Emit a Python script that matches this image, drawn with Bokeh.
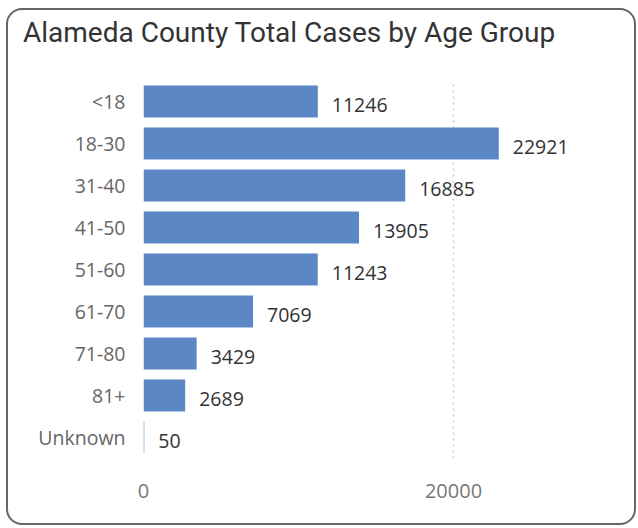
from bokeh.plotting import figure
from bokeh.models import ColumnDataSource, Range1d, FixedTicker, Div
from bokeh.layouts import column
from bokeh.core.properties import value
from bokeh.embed import file_html
from bokeh.resources import INLINE

title_text = "Alameda County Total Cases by Age Group"
categories = ["<18", "18-30", "31-40", "41-50", "51-60", "61-70", "71-80", "81+", "Unknown"]
cases = [11246, 22921, 16885, 13905, 11243, 7069, 3429, 2689, 50]
x_ticks = [0, 20000]

src = ColumnDataSource(dict(cat=categories, val=cases, lab=[str(v) for v in cases]))

p = figure(y_range=list(reversed(categories)), x_range=Range1d(0, 28774),
           frame_width=446, frame_height=378,
           min_border_left=135, min_border_right=45, min_border_top=20, min_border_bottom=65,
           output_backend="svg", toolbar_location=None, margin=0)
p.outline_line_color = None
p.background_fill_color = "white"
p.border_fill_color = None

p.hbar(y="cat", right="val", left=0, height=0.76, source=src,
       fill_color="#5B88C5", line_color=None)
p.text(x="val", y="cat", text="lab", source=src, x_offset=14, y_offset=3,
       text_font=value("Open Sans"), text_font_size="19.5px", text_color="#333333",
       text_baseline="middle", text_align="left")

p.ygrid.grid_line_color = None
p.xgrid.ticker = FixedTicker(ticks=x_ticks)
p.xgrid.grid_line_color = "#c8c8c8"
p.xgrid.grid_line_dash = "2 4"
p.xgrid.grid_line_width = 1.5

p.xaxis.ticker = FixedTicker(ticks=x_ticks)
p.xaxis.axis_line_color = None
p.xaxis.major_tick_line_color = None
p.xaxis.minor_tick_line_color = None
p.xaxis.major_label_text_font = "Open Sans"
p.xaxis.major_label_text_font_size = "20px"
p.xaxis.major_label_text_color = "#777777"
p.xaxis.major_label_standoff = 19

p.yaxis.axis_line_color = None
p.yaxis.major_tick_line_color = None
p.yaxis.minor_tick_line_color = None
p.yaxis.major_label_text_font = "Open Sans"
p.yaxis.major_label_text_font_size = "19.5px"
p.yaxis.major_label_text_color = "#666666"
p.yaxis.major_label_standoff = 12

title = Div(text=title_text, width=626, height=50, margin=0,
            styles={"font-family": "Roboto", "font-size": "28px", "color": "#333333",
                    "line-height": "34px", "padding-left": "15px", "padding-top": "6px",
                    "box-sizing": "border-box", "white-space": "nowrap"})

layout = column(title, p, spacing=0,
                styles={"border": "2px solid #666", "border-radius": "16px",
                        "margin-left": "6px", "margin-top": "8px", "background": "white"})

open("out.html", "w").write(file_html(layout, INLINE))
